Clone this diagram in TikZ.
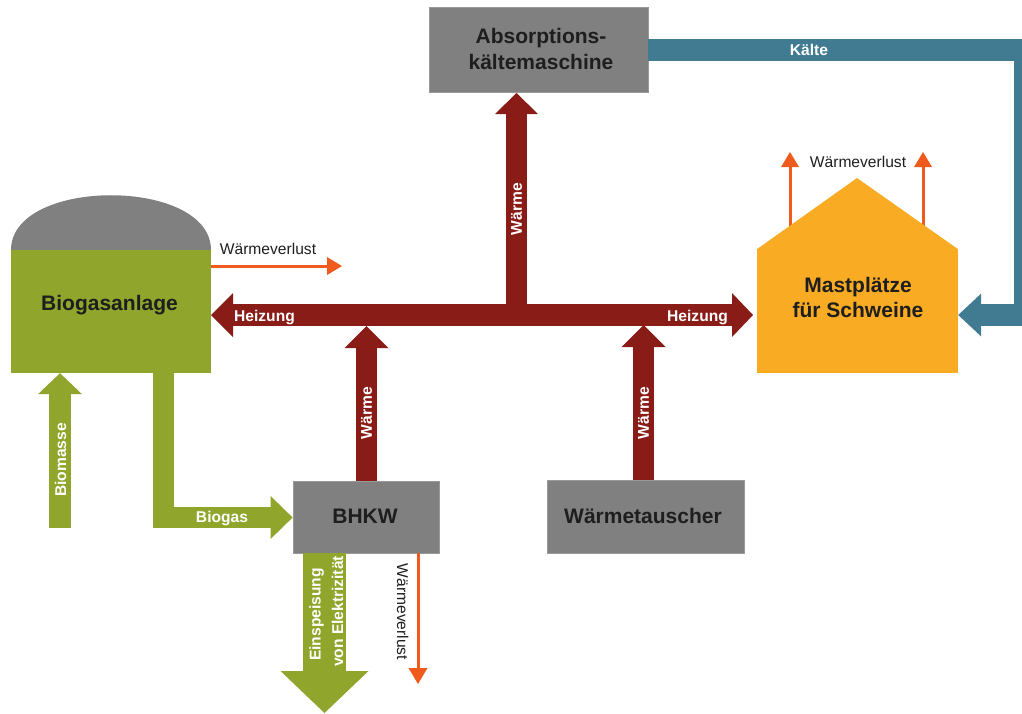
\documentclass[tikz,border=0pt]{standalone}
\usepackage{fontspec}
\setmainfont{Liberation Sans}
\usetikzlibrary{arrows.meta}
\definecolor{cgreen}{HTML}{8FA52B}
\definecolor{cgray}{HTML}{808080}
\definecolor{cred}{HTML}{8A1C17}
\definecolor{corange}{HTML}{EE5B1C}
\definecolor{chouse}{HTML}{F9AB23}
\definecolor{cblue}{HTML}{417B91}
\definecolor{ctext}{HTML}{1E1E1E}
\begin{document}
\begin{tikzpicture}[x=1pt,y=-1pt,
  box/.style={fill=cgray, draw=cgray!80!white, line width=0.8pt, inner sep=0pt},
  big/.style={font=\fontsize{21}{25}\selectfont\bfseries, text=ctext, inner sep=0pt, anchor=base},
  small/.style={font=\fontsize{15.6}{19}\selectfont\bfseries, text=white, inner sep=0pt},
  thinlbl/.style={font=\fontsize{15.6}{19}\selectfont, text=ctext, inner sep=0pt},
  redbar/.style={draw=cred, line width=21.5pt},
  greenbar/.style={draw=cgreen, line width=21.5pt},
  bluebar/.style={draw=cblue, line width=22pt, line join=miter},
  oline/.style={draw=corange, line width=3pt},
  bigtip/.style={-{Triangle[length=22pt,width=44pt,line width=0pt]}},
  bigtips/.style={{Triangle[length=22pt,width=44pt,line width=0pt]}-{Triangle[length=21pt,width=44pt,line width=0pt]}},
  otip/.style={-{Triangle[length=15pt,width=18pt,line width=0pt]}}
]
\useasboundingbox (0,0) rectangle (1022,713);
\clip (0,0) rectangle (1022,713);

% boxes
\node[box, minimum width=219pt, minimum height=85pt] (abs) at (538.5,49.5) {};
\node[box, minimum width=146pt, minimum height=72pt] (bhkw) at (366,517) {};
\node[box, minimum width=197pt, minimum height=73pt] (wt) at (645.5,516.5) {};
\node[fill=cgreen, inner sep=0pt, minimum width=200pt, minimum height=123pt] (bga) at (111,311.5) {};
\fill[cgray] (bga.north west) .. controls ([yshift=73pt]bga.north west) and ([yshift=73pt]bga.north east) .. (bga.north east) -- cycle;

% heat losses of the house (drawn below the house)
\coordinate (hl1) at (790,240);
\coordinate (hl1t) at (790,152);
\coordinate (hl2) at (923,240);
\coordinate (hl2t) at (923,152);
\draw[oline, otip] (hl1) -- (hl1t);
\draw[oline, otip] (hl2) -- (hl2t);

% house
\node[fill=chouse, inner sep=0pt, minimum width=201pt, minimum height=124pt] (mast) at (857.5,311) {};
\coordinate (apex) at (857,178);
\fill[chouse] ([yshift=-0.5pt]mast.north west) -- (apex) -- ([yshift=-0.5pt]mast.north east) -- cycle;

% coordinates
\coordinate (hzL) at (211,315);
\coordinate (hzR) at (753,315);
\coordinate (junc) at (516.5,315);
\coordinate (absin) at (516.5,93);
\coordinate (w1) at (366.5,326);
\coordinate (w2) at (643.5,325);
\coordinate (w2s) at (643.5,480);
\coordinate (bm) at (60,528);
\coordinate (bg) at (163.5,373);
\coordinate (ein) at (324.5,553);
\coordinate (eint) at (324.5,713);
\coordinate (bgl) at (211,266);
\coordinate (bglt) at (342,266);
\coordinate (bhl) at (418,553);
\coordinate (bhlt) at (418,684);
\coordinate (kc1) at (1025,50);
\coordinate (kc2) at (1025,315);

% red heat network
\draw[redbar, bigtips] (hzL) -- (hzR);
\draw[redbar, -{Triangle[length=21pt,width=43pt,line width=0pt]}] (junc) -- (absin);
\draw[redbar, bigtip] (bhkw.north -| w1) -- (w1);
\draw[redbar, bigtip] (w2s) -- (w2);

% green
\draw[greenbar, -{Triangle[length=21pt,width=44pt,line width=0pt]}] (bm) -- (bga.south -| bm);
\draw[greenbar, line join=miter, -{Triangle[length=22pt,width=43pt,line width=0pt]}] (bg) |- ([yshift=-0.5pt]bhkw.west);
\draw[draw=cgreen, line width=43pt, -{Triangle[length=42pt,width=88pt,line width=0pt]}] (ein) -- (eint);

% orange losses
\draw[oline, otip] (bgl) -- (bglt);
\draw[oline, -{Triangle[length=16pt,width=19pt,line width=0pt]}] (bhl) -- (bhlt);

% blue cold
\draw[bluebar, -{Triangle[length=23pt,width=43pt,line width=0pt]}] (abs.east |- kc1) -- (kc1) -- (kc2) -- (mast.east |- kc2);

% big labels
\node[big] (t1) at (541,43) {Absorptions-};
\node[big] (t2) at (541,69) {kältemaschine};
\node[big] (t3) at (109.5,310) {Biogasanlage};
\node[big] (t4) at (858,292) {Mastplätze};
\node[big] (t5) at (858,317) {für Schweine};
\node[big] (t6) at (365,523) {BHKW};
\node[big] (t7) at (643,523) {Wärmetauscher};

% small labels
\node[small, anchor=base] (l1) at (809,55.5) {Kälte};
\node[small, anchor=base] (l2) at (264.5,321) {Heizung};
\node[small, anchor=base] (l3) at (697.5,321) {Heizung};
\node[small, anchor=base] (l4) at (222,522.5) {Biogas};
\node[small, rotate=90] (l5) at (60.5,460) {Biomasse};
\node[small, rotate=90] (l6) at (366.5,413) {Wärme};
\node[small, rotate=90] (l7) at (643.5,413) {Wärme};
\node[small, rotate=90] (l8) at (516.5,209) {Wärme};
\node[small, rotate=90, anchor=base] (l9) at (320.5,614.5) {Einspeisung};
\node[small, rotate=90, anchor=base] (l10) at (343,611.5) {von Elektrizität};
\node[thinlbl, anchor=base] (l11) at (268,254) {Wärmeverlust};
\node[thinlbl, anchor=base] (l12) at (858,167) {Wärmeverlust};
\node[thinlbl, rotate=-90, anchor=base] (l13) at (397,612) {Wärmeverlust};
\end{tikzpicture}
\end{document}
